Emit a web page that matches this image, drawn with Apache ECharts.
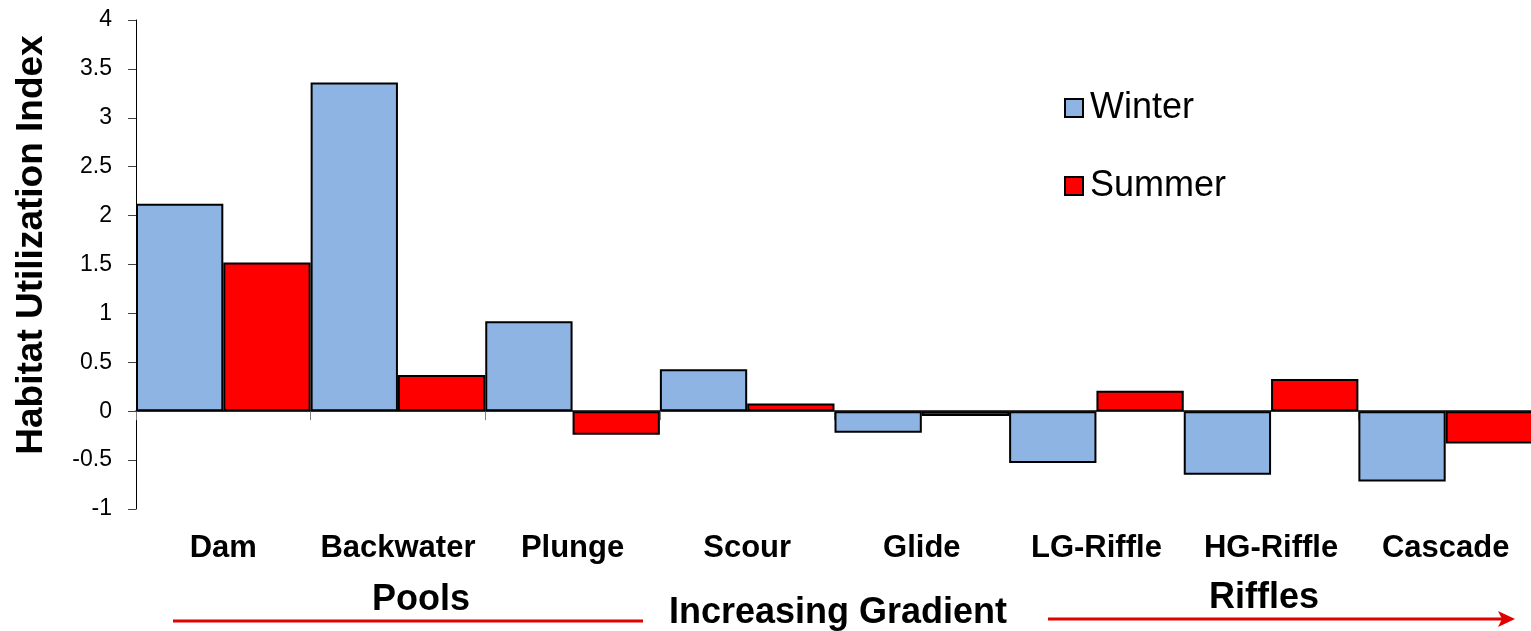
<!DOCTYPE html>
<html>
<head>
<meta charset="utf-8">
<script src="https://cdn.jsdelivr.net/npm/echarts@6/dist/echarts.min.js"></script>
<style>
  html, body { margin: 0; padding: 0; background: #fff; }
  #chart { width: 1531px; height: 631px; }
</style>
</head>
<body>
<div id="chart"></div>
<script>
const categories = ['Dam', 'Backwater', 'Plunge', 'Scour', 'Glide', 'LG-Riffle', 'HG-Riffle', 'Cascade'];
const winterValues = [2.12, 3.36, 0.92, 0.43, -0.22, -0.53, -0.65, -0.72];
const summerValues = [1.52, 0.37, -0.24, 0.08, -0.05, 0.21, 0.33, -0.33];
const seriesNames = ['Winter', 'Summer'];
const yTicks = { min: -1, max: 4, interval: 0.5 };
const axisTitle = 'Habitat Utilization Index';
const groupLabels = ['Pools', 'Increasing Gradient', 'Riffles'];

const FONT = '"Liberation Sans", Arial, sans-serif';
const chart = echarts.init(document.getElementById('chart'));

const option = {
  animation: false,
  backgroundColor: '#ffffff',
  grid: { left: 136, top: 20, width: 1397, height: 489, containLabel: false, outerBoundsMode: 'none' },
  legend: {
    orient: 'vertical',
    left: 1059,
    top: 85,
    itemWidth: 18,
    itemHeight: 18,
    itemGap: 42,
    icon: 'rect',
    textStyle: { fontFamily: FONT, fontSize: 36, color: '#000', padding: [0, 0, 0, 2] },
    data: seriesNames
  },
  xAxis: {
    type: 'category',
    data: categories,
    axisLine: { onZero: true, lineStyle: { color: '#000', width: 1.5 } },
    axisTick: { show: true, length: 9, lineStyle: { color: '#808080', width: 1 } },
    axisLabel: {
      margin: 24,
      fontFamily: FONT,
      fontWeight: 'bold',
      fontSize: 31,
      color: '#000',
      interval: 0
    },
    splitLine: { show: false }
  },
  yAxis: {
    type: 'value',
    min: yTicks.min,
    max: yTicks.max,
    interval: yTicks.interval,
    axisLine: { show: true, lineStyle: { color: '#000', width: 1 } },
    axisTick: { show: true, length: 8, lineStyle: { color: '#404040', width: 1 } },
    axisLabel: { margin: 24, fontFamily: FONT, fontSize: 23, color: '#000' },
    splitLine: { show: false }
  },
  series: [
    {
      name: seriesNames[0],
      type: 'bar',
      data: winterValues,
      barGap: '0%',
      barCategoryGap: '0%',
      itemStyle: { color: '#8EB4E3', borderColor: '#000', borderWidth: 2 }
    },
    {
      name: seriesNames[1],
      type: 'bar',
      data: summerValues,
      barGap: '0%',
      barCategoryGap: '0%',
      itemStyle: { color: '#FF0000', borderColor: '#000', borderWidth: 2 }
    }
  ],
  graphic: [
    {
      type: 'text', x: 32, y: 245, rotation: Math.PI / 2,
      style: { text: axisTitle, font: 'bold 37px ' + FONT, fill: '#000', align: 'center', verticalAlign: 'middle' }
    },
    {
      type: 'text', x: 421, y: 600,
      style: { text: groupLabels[0], font: 'bold 36px ' + FONT, fill: '#000', align: 'center', verticalAlign: 'middle' }
    },
    {
      type: 'text', x: 838, y: 613,
      style: { text: groupLabels[1], font: 'bold 36px ' + FONT, fill: '#000', align: 'center', verticalAlign: 'middle' }
    },
    {
      type: 'text', x: 1264, y: 598,
      style: { text: groupLabels[2], font: 'bold 36px ' + FONT, fill: '#000', align: 'center', verticalAlign: 'middle' }
    },
    {
      type: 'line',
      shape: { x1: 173, y1: 621, x2: 643, y2: 621 },
      style: { stroke: '#E00000', lineWidth: 3 }
    },
    {
      type: 'line',
      shape: { x1: 1048, y1: 619, x2: 1502, y2: 619 },
      style: { stroke: '#E00000', lineWidth: 3 }
    },
    {
      type: 'polygon',
      shape: { points: [[1515, 619], [1498, 611], [1502, 619], [1498, 627]] },
      style: { fill: '#E00000' }
    }
  ]
};
chart.setOption(option);
</script>
</body>
</html>
